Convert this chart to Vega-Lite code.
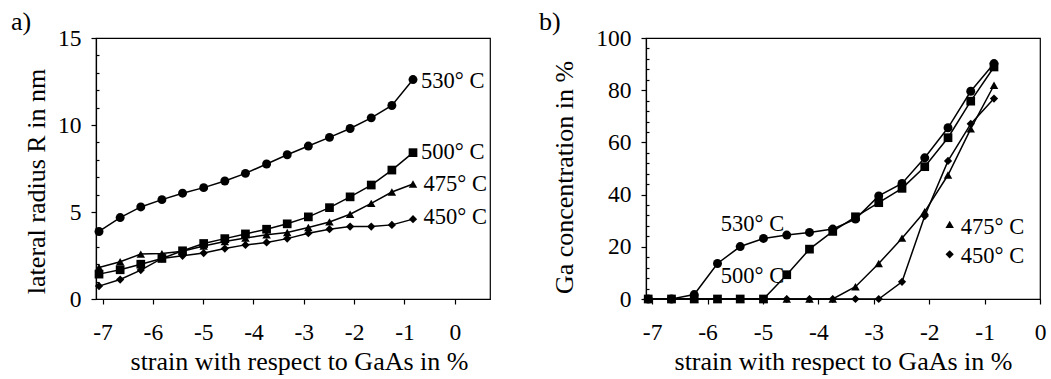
{
  "$schema": "https://vega.github.io/schema/vega-lite/v6.json",
  "background": "white",
  "padding": {"left": 10, "top": 8, "right": 5, "bottom": 0},
  "spacing": 47,
  "datasets": {
    "radius": [
      {"s":"530° C","x":-7.07,"y":3.88},{"s":"530° C","x":-6.65,"y":4.68},{"s":"530° C","x":-6.24,"y":5.29},{"s":"530° C","x":-5.82,"y":5.71},{"s":"530° C","x":-5.41,"y":6.08},{"s":"530° C","x":-4.99,"y":6.40},{"s":"530° C","x":-4.57,"y":6.78},{"s":"530° C","x":-4.16,"y":7.22},{"s":"530° C","x":-3.74,"y":7.76},{"s":"530° C","x":-3.33,"y":8.29},{"s":"530° C","x":-2.91,"y":8.79},{"s":"530° C","x":-2.49,"y":9.29},{"s":"530° C","x":-2.08,"y":9.80},{"s":"530° C","x":-1.66,"y":10.41},{"s":"530° C","x":-1.25,"y":11.12},{"s":"530° C","x":-0.83,"y":12.61},
      {"s":"500° C","x":-7.07,"y":1.43},{"s":"500° C","x":-6.65,"y":1.68},{"s":"500° C","x":-6.24,"y":2.0},{"s":"500° C","x":-5.82,"y":2.33},{"s":"500° C","x":-5.41,"y":2.77},{"s":"500° C","x":-4.99,"y":3.19},{"s":"500° C","x":-4.57,"y":3.47},{"s":"500° C","x":-4.16,"y":3.74},{"s":"500° C","x":-3.74,"y":4.01},{"s":"500° C","x":-3.33,"y":4.32},{"s":"500° C","x":-2.91,"y":4.72},{"s":"500° C","x":-2.49,"y":5.25},{"s":"500° C","x":-2.08,"y":5.87},{"s":"500° C","x":-1.66,"y":6.55},{"s":"500° C","x":-1.25,"y":7.41},{"s":"500° C","x":-0.83,"y":8.41},
      {"s":"475° C","x":-7.07,"y":1.81},{"s":"475° C","x":-6.65,"y":2.14},{"s":"475° C","x":-6.24,"y":2.58},{"s":"475° C","x":-5.82,"y":2.61},{"s":"475° C","x":-5.41,"y":2.75},{"s":"475° C","x":-4.99,"y":3.04},{"s":"475° C","x":-4.57,"y":3.30},{"s":"475° C","x":-4.16,"y":3.50},{"s":"475° C","x":-3.74,"y":3.69},{"s":"475° C","x":-3.33,"y":3.82},{"s":"475° C","x":-2.91,"y":4.11},{"s":"475° C","x":-2.49,"y":4.43},{"s":"475° C","x":-2.08,"y":4.87},{"s":"475° C","x":-1.66,"y":5.5},{"s":"475° C","x":-1.25,"y":6.15},{"s":"475° C","x":-0.83,"y":6.61},
      {"s":"450° C","x":-7.07,"y":0.74},{"s":"450° C","x":-6.65,"y":1.12},{"s":"450° C","x":-6.24,"y":1.66},{"s":"450° C","x":-5.82,"y":2.33},{"s":"450° C","x":-5.41,"y":2.48},{"s":"450° C","x":-4.99,"y":2.64},{"s":"450° C","x":-4.57,"y":2.90},{"s":"450° C","x":-4.16,"y":3.11},{"s":"450° C","x":-3.74,"y":3.25},{"s":"450° C","x":-3.33,"y":3.47},{"s":"450° C","x":-2.91,"y":3.78},{"s":"450° C","x":-2.49,"y":4.01},{"s":"450° C","x":-2.08,"y":4.16},{"s":"450° C","x":-1.66,"y":4.16},{"s":"450° C","x":-1.25,"y":4.26},{"s":"450° C","x":-0.83,"y":4.59}
    ],
    "ga": [
      {"s":"530° C","x":-7.07,"y":0},{"s":"530° C","x":-6.65,"y":0},{"s":"530° C","x":-6.24,"y":1.7},{"s":"530° C","x":-5.82,"y":13.6},{"s":"530° C","x":-5.41,"y":20.1},{"s":"530° C","x":-4.99,"y":23.2},{"s":"530° C","x":-4.57,"y":24.5},{"s":"530° C","x":-4.16,"y":25.5},{"s":"530° C","x":-3.74,"y":26.8},{"s":"530° C","x":-3.33,"y":30.6},{"s":"530° C","x":-2.91,"y":39.5},{"s":"530° C","x":-2.49,"y":44.3},{"s":"530° C","x":-2.08,"y":54.1},{"s":"530° C","x":-1.66,"y":65.6},{"s":"530° C","x":-1.25,"y":79.6},{"s":"530° C","x":-0.83,"y":90.2},
      {"s":"500° C","x":-7.07,"y":0},{"s":"500° C","x":-6.65,"y":0},{"s":"500° C","x":-6.24,"y":0},{"s":"500° C","x":-5.82,"y":0},{"s":"500° C","x":-5.41,"y":0},{"s":"500° C","x":-4.99,"y":0},{"s":"500° C","x":-4.57,"y":9.3},{"s":"500° C","x":-4.16,"y":19.1},{"s":"500° C","x":-3.74,"y":25.9},{"s":"500° C","x":-3.33,"y":31.5},{"s":"500° C","x":-2.91,"y":36.9},{"s":"500° C","x":-2.49,"y":42.4},{"s":"500° C","x":-2.08,"y":50.7},{"s":"500° C","x":-1.66,"y":61.8},{"s":"500° C","x":-1.25,"y":75.8},{"s":"500° C","x":-0.83,"y":88.9},
      {"s":"475° C","x":-7.07,"y":0},{"s":"475° C","x":-6.65,"y":0},{"s":"475° C","x":-6.24,"y":0},{"s":"475° C","x":-5.82,"y":0},{"s":"475° C","x":-5.41,"y":0},{"s":"475° C","x":-4.99,"y":0},{"s":"475° C","x":-4.57,"y":0},{"s":"475° C","x":-4.16,"y":0},{"s":"475° C","x":-3.74,"y":0},{"s":"475° C","x":-3.33,"y":4.7},{"s":"475° C","x":-2.91,"y":13.6},{"s":"475° C","x":-2.49,"y":23.3},{"s":"475° C","x":-2.08,"y":33.5},{"s":"475° C","x":-1.66,"y":47.5},{"s":"475° C","x":-1.25,"y":65.2},{"s":"475° C","x":-0.83,"y":81.9},
      {"s":"450° C","x":-7.07,"y":0},{"s":"450° C","x":-6.65,"y":0},{"s":"450° C","x":-6.24,"y":0},{"s":"450° C","x":-5.82,"y":0},{"s":"450° C","x":-5.41,"y":0},{"s":"450° C","x":-4.99,"y":0},{"s":"450° C","x":-4.57,"y":0},{"s":"450° C","x":-4.16,"y":0},{"s":"450° C","x":-3.74,"y":0},{"s":"450° C","x":-3.33,"y":0},{"s":"450° C","x":-2.91,"y":0},{"s":"450° C","x":-2.49,"y":6.6},{"s":"450° C","x":-2.08,"y":31.8},{"s":"450° C","x":-1.66,"y":52.9},{"s":"450° C","x":-1.25,"y":67.1},{"s":"450° C","x":-0.83,"y":76.8}
    ],
    "labelsA": [
      {"t":"530° C","x":-0.67,"y":12.55},
      {"t":"500° C","x":-0.67,"y":8.47},
      {"t":"475° C","x":-0.62,"y":6.61},
      {"t":"450° C","x":-0.62,"y":4.74}
    ],
    "labelsB": [
      {"t":"530° C","x":-5.76,"y":28.9},
      {"t":"500° C","x":-5.76,"y":9.0},
      {"t":"475° C","x":-1.43,"y":27.7},
      {"t":"450° C","x":-1.43,"y":16.5}
    ],
    "keyB": [
      {"s":"475° C","x":-1.63,"y":28.6},
      {"s":"450° C","x":-1.63,"y":17.1}
    ]
  },
  "config": {
    "font": "Liberation Serif, Times New Roman, serif",
    "view": {"stroke": "black", "strokeWidth": 1.2},
    "axis": {
      "domainColor": "black", "domainWidth": 1.2, "tickColor": "black", "tickWidth": 1.2,
      "labelColor": "black", "titleColor": "black",
      "labelFont": "Liberation Serif, Times New Roman, serif", "titleFont": "Liberation Serif, Times New Roman, serif",
      "labelFontSize": 23.5, "titleFontSize": 26, "titleFontWeight": "normal",
      "grid": false, "tickSize": 5, "labelFlush": false, "labelOverlap": false, "labelBound": false
    },
    "title": {"font": "Liberation Serif, Times New Roman, serif", "fontSize": 26, "fontWeight": "normal", "color": "black", "anchor": "start", "frame": "group"}
  },
  "hconcat": [
    {
      "width": 394, "height": 261,
      "title": {"text": "a)", "dx": -85, "offset": -9},
      "resolve": {"axis": {"y": "independent"}},
      "encoding": {
        "x": {"field": "x", "type": "quantitative", "scale": {"domain": [-7.13, 0.7], "nice": false, "zero": false},
              "axis": {"values": [-7,-6,-5,-4,-3,-2,-1,0], "title": "strain with respect to GaAs in %", "labelPadding": 16, "titlePadding": 5, "titleX": 203,
                       "labelExpr": "datum.value == 0 ? '0' : '-' + abs(datum.value)"}}
      },
      "layer": [
        {
          "data": {"name": "radius"},
          "mark": {"type": "line", "color": "black", "strokeWidth": 1.5},
          "encoding": {
            "y": {"field": "y", "type": "quantitative", "scale": {"domain": [0, 15], "nice": false},
                  "axis": {"orient": "left", "values": [0,5,10,15], "title": "lateral radius R in nm", "labelPadding": 10, "titlePadding": 8, "titleY": 143}},
            "detail": {"field": "s"}
          }
        },
        {
          "data": {"name": "radius"},
          "mark": {"type": "point", "filled": true, "color": "black", "opacity": 1},
          "encoding": {
            "y": {"field": "y", "type": "quantitative", "axis": null},
            "shape": {"field": "s", "type": "nominal", "scale": {"domain": ["530° C","500° C","475° C","450° C"], "range": ["circle","square","triangle-up","diamond"]}, "legend": null},
            "size": {"field": "s", "type": "nominal", "scale": {"domain": ["530° C","500° C","475° C","450° C"], "range": [80, 68, 105, 130]}, "legend": null}
          }
        },
        {
          "data": {"name": "labelsA"},
          "mark": {"type": "text", "align": "left", "baseline": "middle", "font": "Liberation Serif, Times New Roman, serif", "fontSize": 22.5, "color": "black"},
          "encoding": {
            "y": {"field": "y", "type": "quantitative", "axis": null},
            "text": {"field": "t"}
          }
        },
        {
          "data": {"name": "radius"},
          "mark": {"type": "point", "opacity": 0},
          "encoding": {
            "y": {"field": "y", "type": "quantitative",
                  "axis": {"orient": "left", "values": [1,2,3,4,6,7,8,9,11,12,13,14], "tickSize": -3, "labels": false, "domain": false, "title": null}}
          }
        }
      ]
    },
    {
      "width": 394, "height": 261,
      "title": {"text": "b)", "dx": -107, "offset": -9},
      "resolve": {"axis": {"y": "independent"}},
      "encoding": {
        "x": {"field": "x", "type": "quantitative", "scale": {"domain": [-7.11, 0], "nice": false, "zero": false},
              "axis": {"values": [-7,-6,-5,-4,-3,-2,-1,0], "title": "strain with respect to GaAs in %", "labelPadding": 16, "titlePadding": 5,
                       "labelExpr": "datum.value == 0 ? '0' : '-' + abs(datum.value)"}}
      },
      "layer": [
        {
          "data": {"name": "ga"},
          "mark": {"type": "line", "color": "black", "strokeWidth": 1.5},
          "encoding": {
            "y": {"field": "y", "type": "quantitative", "scale": {"domain": [0, 100], "nice": false},
                  "axis": {"orient": "left", "values": [0,20,40,60,80,100], "title": "Ga concentration in %", "labelPadding": 10, "titlePadding": 18, "titleY": 139}},
            "detail": {"field": "s"}
          }
        },
        {
          "data": {"name": "ga"},
          "mark": {"type": "point", "filled": true, "color": "black", "opacity": 1},
          "encoding": {
            "y": {"field": "y", "type": "quantitative", "axis": null},
            "shape": {"field": "s", "type": "nominal", "scale": {"domain": ["530° C","500° C","475° C","450° C"], "range": ["circle","square","triangle-up","diamond"]}, "legend": null},
            "size": {"field": "s", "type": "nominal", "scale": {"domain": ["530° C","500° C","475° C","450° C"], "range": [80, 68, 105, 130]}, "legend": null}
          }
        },
        {
          "data": {"name": "keyB"},
          "mark": {"type": "point", "filled": true, "color": "black", "opacity": 1},
          "encoding": {
            "y": {"field": "y", "type": "quantitative", "axis": null},
            "shape": {"field": "s", "type": "nominal", "scale": {"domain": ["530° C","500° C","475° C","450° C"], "range": ["circle","square","triangle-up","diamond"]}, "legend": null},
            "size": {"field": "s", "type": "nominal", "scale": {"domain": ["530° C","500° C","475° C","450° C"], "range": [80, 68, 90, 105]}, "legend": null}
          }
        },
        {
          "data": {"name": "labelsB"},
          "mark": {"type": "text", "align": "left", "baseline": "middle", "font": "Liberation Serif, Times New Roman, serif", "fontSize": 22.5, "color": "black"},
          "encoding": {
            "y": {"field": "y", "type": "quantitative", "axis": null},
            "text": {"field": "t"}
          }
        },
        {
          "data": {"name": "ga"},
          "mark": {"type": "point", "opacity": 0},
          "encoding": {
            "y": {"field": "y", "type": "quantitative",
                  "axis": {"orient": "left", "values": [4,8,12,16,24,28,32,36,44,48,52,56,64,68,72,76,84,88,92,96], "tickSize": -3, "labels": false, "domain": false, "title": null}}
          }
        }
      ]
    }
  ]
}
